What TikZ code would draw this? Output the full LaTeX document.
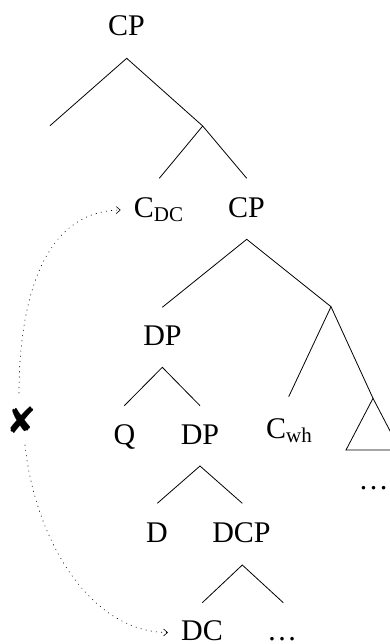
\documentclass[tikz,border=0pt]{standalone}
\usepackage{fontspec}
\setmainfont{Liberation Serif}
\newfontfamily\symfont{DejaVu Sans}
\usetikzlibrary{arrows.meta}
\newcommand\lsub[1]{\raisebox{-4pt}{\fontsize{21}{21}\selectfont #1}}
\begin{document}
\begin{tikzpicture}[x=1pt,y=-1pt,
  lab/.style={anchor=base,inner sep=0pt,font=\fontsize{30}{30}\selectfont},
  br/.style={line width=0.8pt},
  mv/.style={line width=0.6pt,dash pattern=on 0.7pt off 4.5pt,line cap=round},
  tip/.style={-{Straight Barb[length=4pt,width=7pt]}}]
\useasboundingbox (0,0) rectangle (389,644);
% labels
\node[lab] (cp1) at (126.5,36) {CP};
\node[lab] (cdc) at (158.5,218) {C\lsub{DC}};
\node[lab] (cp2) at (246.5,217) {CP};
\node[lab] (dp1) at (162.5,345) {DP};
\node[lab] (q) at (124.5,444) {Q};
\node[lab] (dp2) at (200,444) {DP};
\node[lab] (cwh) at (289,438) {C\lsub{wh}};
\node[lab] (dots1) at (373.5,489) {…};
\node[lab] (d) at (157,542) {D};
\node[lab] (dcp) at (241.5,542) {DCP};
\node[lab] (dc) at (202,640.5) {DC};
\node[lab] (dots2) at (282,640.5) {…};
\node[font=\symfont\fontsize{36}{36}\selectfont,inner sep=0pt] (x) at (22,420) {✘};
% branch points
\coordinate (a1) at (126.7,58.3);
\coordinate (a1l) at (50,125.7);
\coordinate (a1r) at (202.7,126);
\coordinate (a2l) at (159.3,178.3);
\coordinate (a2r) at (246.7,178.3);
\coordinate (a3) at (246.7,239.3);
\coordinate (a3l) at (162.3,307.3);
\coordinate (a3r) at (331,306.7);
\coordinate (a4) at (162.3,367.3);
\coordinate (a4l) at (124.3,405.7);
\coordinate (a4r) at (200,405.7);
\coordinate (a5l) at (288.7,396.7);
\coordinate (a5r) at (373,398.3);
\coordinate (tbl) at (346,450);
\coordinate (tbr) at (400,450);
\coordinate (a6) at (200,466);
\coordinate (a6l) at (157.3,503.3);
\coordinate (a6r) at (242.3,503.3);
\coordinate (a7) at (242.3,565);
\coordinate (a7l) at (202.3,602.7);
\coordinate (a7r) at (283.3,602.7);
% branches
\draw[br] (a1l) -- (a1) -- (a1r);
\draw[br] (a2l) -- (a1r) -- (a2r);
\draw[br] (a3l) -- (a3) -- (a3r);
\draw[br] (a4l) -- (a4) -- (a4r);
\draw[br] (a5l) -- (a3r) -- (a5r);
\draw[br] (a5r) -- (tbl) -- (tbr) -- cycle;
\draw[br] (a6l) -- (a6) -- (a6r);
\draw[br] (a7l) -- (a7) -- (a7r);
% movement arrow
\coordinate (gt) at (19,393);
\coordinate (gb) at (25,445);
\draw[mv,tip] (gt) .. controls (19,320) and (35,211) .. ([xshift=-13pt,yshift=8pt]cdc.base west);
\draw[mv,tip] (gb) .. controls (35,540) and (90,632) .. ([xshift=-13pt,yshift=8pt]dc.base west);
\end{tikzpicture}
\end{document}
